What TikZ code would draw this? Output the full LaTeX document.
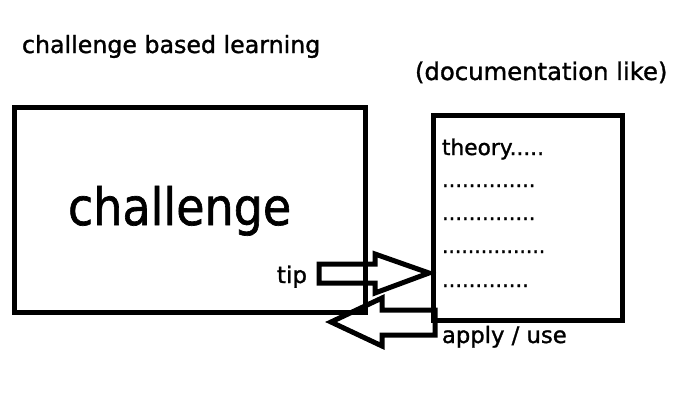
\documentclass[tikz,border=0pt]{standalone}
\usepackage{fontspec}
\setmainfont{DejaVu Sans}[FakeBold=1.3]
\begin{document}
\begin{tikzpicture}[x=1pt,y=-1pt,
  lbl/.style={inner sep=0pt,outer sep=0pt,anchor=base west},
  boxline/.style={draw=black,line width=5pt},
  arrline/.style={draw=black,line width=5pt,line join=miter}]
\useasboundingbox (0,0) rectangle (693,412);
% boxes
\draw[boxline] (14,107) rectangle (365,312);
\draw[boxline] (433,115) rectangle (622,320);
% texts
\node[lbl] (title) at (22,53) {\fontsize{23.7}{28}\selectfont challenge based learning};
\node[lbl] (doc) at (415,80) {\fontsize{24.3}{28}\selectfont (documentation like)};
\node[lbl] (chal) at (68,225) {\fontsize{46}{50}\selectfont\scalebox{1}[1.12]{challenge}};
\node[lbl] (tip) at (277,283) {\fontsize{23}{28}\selectfont tip};
\node[lbl] (theory) at (442,155) {\fontsize{21.7}{26}\selectfont theory.....};
\node[lbl] (d1) at (442,187) {\fontsize{21}{26}\selectfont ..............};
\node[lbl] (d2) at (442,220) {\fontsize{21}{26}\selectfont ..............};
\node[lbl] (d3) at (442,253) {\fontsize{20.3}{26}\selectfont ................};
\node[lbl] (d4) at (442,287) {\fontsize{21}{26}\selectfont .............};
\node[lbl] (apply) at (442,343) {\fontsize{22.7}{26}\selectfont apply / use};
% arrows (outlines)
\draw[arrline] (319,264) -- (375,264) -- (375,254) -- (429,273) -- (375,293) -- (375,283) -- (319,283) -- cycle;
\draw[arrline] (435,310) -- (382,310) -- (382,298) -- (331,322) -- (382,346) -- (382,335) -- (435,335) -- cycle;
\end{tikzpicture}
\end{document}
